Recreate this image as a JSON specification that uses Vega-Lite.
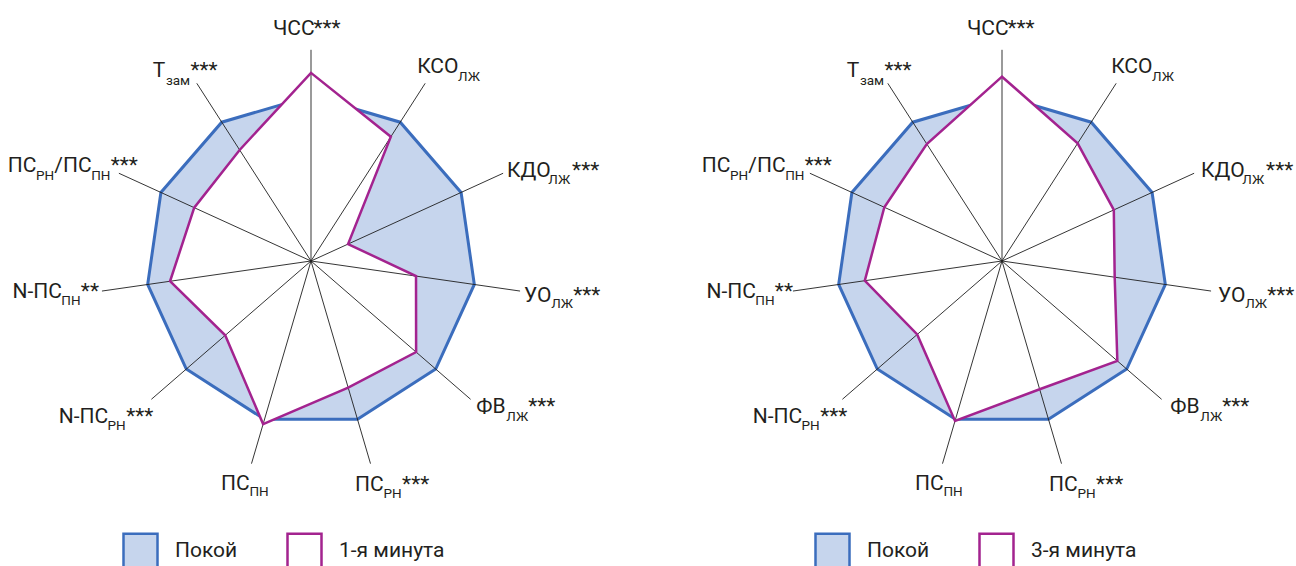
{
  "$schema": "https://vega.github.io/schema/vega-lite/v6.json",
  "background": "white",
  "padding": 0,
  "spacing": 43,
  "config": {"view": {"stroke": null}, "text": {"font": "Roboto"}},
  "params": [
    {"name": "labelDx", "value": [-38, 2.5, -8, 32.9, 4, 45.1, 69, 4, 31.1, 53.1, 5.6, 35.6, 57.6, -15.4, 13.1, 31.6, -30.6, -2.1, -92.6, -43.8, -25.1, -89.4, -40.6, -21.1, -111.1, -82.8, -64.6, -27.7, -8.1, -44, -30.9, -6.4]},
    {"name": "labelDy", "value": [-15, -15, -10.5, -2, 3.6, 11, 3.6, 11, 17, 11, 14, 21.5, 14, 27.5, 34, 27.5, 26.5, 32.5, 23.8, 30.8, 23.8, 7, 14, 7, -1.4, 6.6, -1.4, 6.6, -1.4, -6.5, 1.5, -6.5]}
  ],
  "datasets": {
    "vals": [
      {"series": "Покой", "k": 0, "axis": "ЧСС", "v": 100},
      {"series": "Покой", "k": 1, "axis": "КСО ЛЖ", "v": 100},
      {"series": "Покой", "k": 2, "axis": "КДО ЛЖ", "v": 100},
      {"series": "Покой", "k": 3, "axis": "УО ЛЖ", "v": 100},
      {"series": "Покой", "k": 4, "axis": "ФВ ЛЖ", "v": 100},
      {"series": "Покой", "k": 5, "axis": "ПС РН", "v": 100},
      {"series": "Покой", "k": 6, "axis": "ПС ПН", "v": 100},
      {"series": "Покой", "k": 7, "axis": "N-ПС РН", "v": 100},
      {"series": "Покой", "k": 8, "axis": "N-ПС ПН", "v": 100},
      {"series": "Покой", "k": 9, "axis": "ПС РН/ПС ПН", "v": 100},
      {"series": "Покой", "k": 10, "axis": "Т зам", "v": 100},
      {"series": "1-я минута", "k": 0, "axis": "ЧСС", "v": 114},
      {"series": "1-я минута", "k": 1, "axis": "КСО ЛЖ", "v": 89.5},
      {"series": "1-я минута", "k": 2, "axis": "КДО ЛЖ", "v": 24.7},
      {"series": "1-я минута", "k": 3, "axis": "УО ЛЖ", "v": 64.3},
      {"series": "1-я минута", "k": 4, "axis": "ФВ ЛЖ", "v": 84.3},
      {"series": "1-я минута", "k": 5, "axis": "ПС РН", "v": 80},
      {"series": "1-я минута", "k": 6, "axis": "ПС ПН", "v": 103},
      {"series": "1-я минута", "k": 7, "axis": "N-ПС РН", "v": 68.8},
      {"series": "1-я минута", "k": 8, "axis": "N-ПС ПН", "v": 86.3},
      {"series": "1-я минута", "k": 9, "axis": "ПС РН/ПС ПН", "v": 77.8},
      {"series": "1-я минута", "k": 10, "axis": "Т зам", "v": 80},
      {"series": "3-я минута", "k": 0, "axis": "ЧСС", "v": 111.7},
      {"series": "3-я минута", "k": 1, "axis": "КСО ЛЖ", "v": 84.8},
      {"series": "3-я минута", "k": 2, "axis": "КДО ЛЖ", "v": 74.5},
      {"series": "3-я минута", "k": 3, "axis": "УО ЛЖ", "v": 69},
      {"series": "3-я минута", "k": 4, "axis": "ФВ ЛЖ", "v": 92.5},
      {"series": "3-я минута", "k": 5, "axis": "ПС РН", "v": 81},
      {"series": "3-я минута", "k": 6, "axis": "ПС ПН", "v": 101},
      {"series": "3-я минута", "k": 7, "axis": "N-ПС РН", "v": 68},
      {"series": "3-я минута", "k": 8, "axis": "N-ПС ПН", "v": 84},
      {"series": "3-я минута", "k": 9, "axis": "ПС РН/ПС ПН", "v": 78.4},
      {"series": "3-я минута", "k": 10, "axis": "Т зам", "v": 84.3}
    ],
    "axes": [
      {"k": 0, "axis": "ЧСС"}, {"k": 1, "axis": "КСО ЛЖ"}, {"k": 2, "axis": "КДО ЛЖ"},
      {"k": 3, "axis": "УО ЛЖ"}, {"k": 4, "axis": "ФВ ЛЖ"}, {"k": 5, "axis": "ПС РН"},
      {"k": 6, "axis": "ПС ПН"}, {"k": 7, "axis": "N-ПС РН"}, {"k": 8, "axis": "N-ПС ПН"},
      {"k": 9, "axis": "ПС РН/ПС ПН"}, {"k": 10, "axis": "Т зам"}
    ],
    "labels": [
      {"k": 0, "part": "name", "t": "ЧСС"}, {"k": 0, "part": "sig", "t": "***"},
      {"k": 1, "part": "name", "t": "КСО"}, {"k": 1, "part": "index", "t": "ЛЖ"},
      {"k": 2, "part": "name", "t": "КДО"}, {"k": 2, "part": "index", "t": "ЛЖ"}, {"k": 2, "part": "sig", "t": "***"},
      {"k": 3, "part": "name", "t": "УО"}, {"k": 3, "part": "index", "t": "ЛЖ"}, {"k": 3, "part": "sig", "t": "***"},
      {"k": 4, "part": "name", "t": "ФВ"}, {"k": 4, "part": "index", "t": "ЛЖ"}, {"k": 4, "part": "sig", "t": "***"},
      {"k": 5, "part": "name", "t": "ПС"}, {"k": 5, "part": "index", "t": "РН"}, {"k": 5, "part": "sig", "t": "***"},
      {"k": 6, "part": "name", "t": "ПС"}, {"k": 6, "part": "index", "t": "ПН"},
      {"k": 7, "part": "name", "t": "N-ПС"}, {"k": 7, "part": "index", "t": "РН"}, {"k": 7, "part": "sig", "t": "***"},
      {"k": 8, "part": "name", "t": "N-ПС"}, {"k": 8, "part": "index", "t": "ПН"}, {"k": 8, "part": "sig", "t": "**"},
      {"k": 9, "part": "name", "t": "ПС"}, {"k": 9, "part": "index", "t": "РН"}, {"k": 9, "part": "name", "t": "/ПС"}, {"k": 9, "part": "index", "t": "ПН"}, {"k": 9, "part": "sig", "t": "***"},
      {"k": 10, "part": "name", "t": "Т"}, {"k": 10, "part": "index", "t": "зам"}, {"k": 10, "part": "sig", "t": "***"}
    ]
  },
  "resolve": {
    "scale": {"fill": "independent", "stroke": "independent"},
    "legend": {"fill": "independent", "stroke": "independent"}
  },
  "hconcat": [
    {
      "width": 648,
      "height": 566,
      "encoding": {
        "x": {"field": "px", "type": "quantitative", "scale": {"domain": [-188.48, 204.24], "nice": false, "zero": false}, "axis": null},
        "y": {"field": "py", "type": "quantitative", "scale": {"domain": [-184.85, 158.18], "nice": false, "zero": false}, "axis": null}
      },
      "layer": [
        {
          "data": {"values": [{"series": "Покой"}, {"series": "1-я минута"}]},
          "mark": {"type": "square", "size": 1, "filled": true, "opacity": 1, "strokeWidth": 2.5},
          "encoding": {
            "x": {"datum": 0, "type": "quantitative"},
            "y": {"datum": 0, "type": "quantitative"},
            "fill": {"field": "series", "type": "nominal", "scale": {"domain": ["Покой", "1-я минута"], "range": ["#c6d5ed", "#ffffff"]},
              "legend": {"title": null, "orient": "none", "legendX": 122, "legendY": 532, "direction": "horizontal", "symbolType": "square", "symbolSize": 1156, "symbolStrokeWidth": 2.5, "symbolOpacity": 1, "labelFontSize": 21, "labelFont": "Roboto", "labelColor": "#231f20", "labelOffset": 16, "columnPadding": 44, "padding": 0, "labelLimit": 400}},
            "stroke": {"field": "series", "type": "nominal", "scale": {"domain": ["Покой", "1-я минута"], "range": ["#3b6dbd", "#a3238f"]},
              "legend": {"title": null, "orient": "none", "legendX": 122, "legendY": 532, "direction": "horizontal", "symbolType": "square", "symbolSize": 1156, "symbolStrokeWidth": 2.5, "symbolOpacity": 1, "labelFontSize": 21, "labelFont": "Roboto", "labelColor": "#231f20", "labelOffset": 16, "columnPadding": 44, "padding": 0, "labelLimit": 400}}
          }
        },
        {
          "data": {"name": "vals"},
          "transform": [
            {"filter": {"field": "series", "equal": "Покой"}},
            {"calculate": "datum.k * 2 * PI / 11", "as": "a"},
            {"calculate": "datum.v * sin(datum.a)", "as": "px"},
            {"calculate": "datum.v * cos(datum.a)", "as": "py"}
          ],
          "mark": {"type": "line", "interpolate": "linear-closed", "fill": "#c6d5ed", "stroke": "#3b6dbd", "strokeWidth": 3},
          "encoding": {"order": {"field": "k", "type": "quantitative"}}
        },
        {
          "data": {"name": "vals"},
          "transform": [
            {"filter": {"field": "series", "equal": "1-я минута"}},
            {"calculate": "datum.k * 2 * PI / 11", "as": "a"},
            {"calculate": "datum.v * sin(datum.a)", "as": "px"},
            {"calculate": "datum.v * cos(datum.a)", "as": "py"}
          ],
          "mark": {"type": "line", "interpolate": "linear-closed", "fill": "#ffffff", "stroke": "#ffffff", "strokeWidth": 0},
          "encoding": {"order": {"field": "k", "type": "quantitative"}}
        },
        {
          "data": {"name": "axes"},
          "transform": [
            {"calculate": "datum.k * 2 * PI / 11", "as": "a"},
            {"calculate": "128 * sin(datum.a)", "as": "px"},
            {"calculate": "128 * cos(datum.a)", "as": "py"}
          ],
          "mark": {"type": "rule"},
          "encoding": {
            "x2": {"datum": 0},
            "y2": {"datum": 0},
            "color": {"condition": {"test": "datum.k === 0", "value": "#9a9a9a"}, "value": "#1e1e1e"},
            "strokeWidth": {"condition": {"test": "datum.k === 0", "value": 2}, "value": 0.9}
          }
        },
        {
          "data": {"name": "vals"},
          "transform": [
            {"filter": {"field": "series", "equal": "1-я минута"}},
            {"calculate": "datum.k * 2 * PI / 11", "as": "a"},
            {"calculate": "datum.v * sin(datum.a)", "as": "px"},
            {"calculate": "datum.v * cos(datum.a)", "as": "py"}
          ],
          "mark": {"type": "line", "interpolate": "linear-closed", "stroke": "#a3238f", "strokeWidth": 2.5},
          "encoding": {"order": {"field": "k", "type": "quantitative"}}
        },
        {
          "data": {"name": "labels"},
          "transform": [
            {"window": [{"op": "row_number", "as": "i"}]},
            {"calculate": "datum.k * 2 * PI / 11", "as": "a"},
            {"calculate": "128 * sin(datum.a)", "as": "px"},
            {"calculate": "128 * cos(datum.a)", "as": "py"},
            {"filter": "datum.part !== 'index'"}
          ],
          "mark": {"type": "text", "align": "left", "baseline": "alphabetic", "font": "Roboto", "fontSize": 21, "color": "#231f20",
            "dx": {"expr": "labelDx[datum.i - 1]"},
            "dy": {"expr": "labelDy[datum.i - 1]"}},
          "encoding": {"text": {"field": "t"}}
        },
        {
          "data": {"name": "labels"},
          "transform": [
            {"window": [{"op": "row_number", "as": "i"}]},
            {"calculate": "datum.k * 2 * PI / 11", "as": "a"},
            {"calculate": "128 * sin(datum.a)", "as": "px"},
            {"calculate": "128 * cos(datum.a)", "as": "py"},
            {"filter": "datum.part === 'index'"}
          ],
          "mark": {"type": "text", "align": "left", "baseline": "alphabetic", "font": "Roboto", "fontSize": 13.5, "color": "#231f20",
            "dx": {"expr": "labelDx[datum.i - 1]"},
            "dy": {"expr": "labelDy[datum.i - 1]"}},
          "encoding": {"text": {"field": "t"}}
        }
      ]
    },
    {
      "width": 648,
      "height": 566,
      "encoding": {
        "x": {"field": "px", "type": "quantitative", "scale": {"domain": [-188.48, 204.24], "nice": false, "zero": false}, "axis": null},
        "y": {"field": "py", "type": "quantitative", "scale": {"domain": [-184.85, 158.18], "nice": false, "zero": false}, "axis": null}
      },
      "layer": [
        {
          "data": {"values": [{"series": "Покой"}, {"series": "3-я минута"}]},
          "mark": {"type": "square", "size": 1, "filled": true, "opacity": 1, "strokeWidth": 2.5},
          "encoding": {
            "x": {"datum": 0, "type": "quantitative"},
            "y": {"datum": 0, "type": "quantitative"},
            "fill": {"field": "series", "type": "nominal", "scale": {"domain": ["Покой", "3-я минута"], "range": ["#c6d5ed", "#ffffff"]},
              "legend": {"title": null, "orient": "none", "legendX": 123, "legendY": 532, "direction": "horizontal", "symbolType": "square", "symbolSize": 1156, "symbolStrokeWidth": 2.5, "symbolOpacity": 1, "labelFontSize": 21, "labelFont": "Roboto", "labelColor": "#231f20", "labelOffset": 16, "columnPadding": 44, "padding": 0, "labelLimit": 400}},
            "stroke": {"field": "series", "type": "nominal", "scale": {"domain": ["Покой", "3-я минута"], "range": ["#3b6dbd", "#a3238f"]},
              "legend": {"title": null, "orient": "none", "legendX": 123, "legendY": 532, "direction": "horizontal", "symbolType": "square", "symbolSize": 1156, "symbolStrokeWidth": 2.5, "symbolOpacity": 1, "labelFontSize": 21, "labelFont": "Roboto", "labelColor": "#231f20", "labelOffset": 16, "columnPadding": 44, "padding": 0, "labelLimit": 400}}
          }
        },
        {
          "data": {"name": "vals"},
          "transform": [
            {"filter": {"field": "series", "equal": "Покой"}},
            {"calculate": "datum.k * 2 * PI / 11", "as": "a"},
            {"calculate": "datum.v * sin(datum.a)", "as": "px"},
            {"calculate": "datum.v * cos(datum.a)", "as": "py"}
          ],
          "mark": {"type": "line", "interpolate": "linear-closed", "fill": "#c6d5ed", "stroke": "#3b6dbd", "strokeWidth": 3},
          "encoding": {"order": {"field": "k", "type": "quantitative"}}
        },
        {
          "data": {"name": "vals"},
          "transform": [
            {"filter": {"field": "series", "equal": "3-я минута"}},
            {"calculate": "datum.k * 2 * PI / 11", "as": "a"},
            {"calculate": "datum.v * sin(datum.a)", "as": "px"},
            {"calculate": "datum.v * cos(datum.a)", "as": "py"}
          ],
          "mark": {"type": "line", "interpolate": "linear-closed", "fill": "#ffffff", "stroke": "#ffffff", "strokeWidth": 0},
          "encoding": {"order": {"field": "k", "type": "quantitative"}}
        },
        {
          "data": {"name": "axes"},
          "transform": [
            {"calculate": "datum.k * 2 * PI / 11", "as": "a"},
            {"calculate": "128 * sin(datum.a)", "as": "px"},
            {"calculate": "128 * cos(datum.a)", "as": "py"}
          ],
          "mark": {"type": "rule"},
          "encoding": {
            "x2": {"datum": 0},
            "y2": {"datum": 0},
            "color": {"condition": {"test": "datum.k === 0", "value": "#9a9a9a"}, "value": "#1e1e1e"},
            "strokeWidth": {"condition": {"test": "datum.k === 0", "value": 2}, "value": 0.9}
          }
        },
        {
          "data": {"name": "vals"},
          "transform": [
            {"filter": {"field": "series", "equal": "3-я минута"}},
            {"calculate": "datum.k * 2 * PI / 11", "as": "a"},
            {"calculate": "datum.v * sin(datum.a)", "as": "px"},
            {"calculate": "datum.v * cos(datum.a)", "as": "py"}
          ],
          "mark": {"type": "line", "interpolate": "linear-closed", "stroke": "#a3238f", "strokeWidth": 2.5},
          "encoding": {"order": {"field": "k", "type": "quantitative"}}
        },
        {
          "data": {"name": "labels"},
          "transform": [
            {"window": [{"op": "row_number", "as": "i"}]},
            {"calculate": "datum.k * 2 * PI / 11", "as": "a"},
            {"calculate": "128 * sin(datum.a)", "as": "px"},
            {"calculate": "128 * cos(datum.a)", "as": "py"},
            {"filter": "datum.part !== 'index'"}
          ],
          "mark": {"type": "text", "align": "left", "baseline": "alphabetic", "font": "Roboto", "fontSize": 21, "color": "#231f20",
            "dx": {"expr": "3 + labelDx[datum.i - 1]"},
            "dy": {"expr": "labelDy[datum.i - 1]"}},
          "encoding": {"text": {"field": "t"}}
        },
        {
          "data": {"name": "labels"},
          "transform": [
            {"window": [{"op": "row_number", "as": "i"}]},
            {"calculate": "datum.k * 2 * PI / 11", "as": "a"},
            {"calculate": "128 * sin(datum.a)", "as": "px"},
            {"calculate": "128 * cos(datum.a)", "as": "py"},
            {"filter": "datum.part === 'index'"}
          ],
          "mark": {"type": "text", "align": "left", "baseline": "alphabetic", "font": "Roboto", "fontSize": 13.5, "color": "#231f20",
            "dx": {"expr": "3 + labelDx[datum.i - 1]"},
            "dy": {"expr": "labelDy[datum.i - 1]"}},
          "encoding": {"text": {"field": "t"}}
        }
      ]
    }
  ]
}
